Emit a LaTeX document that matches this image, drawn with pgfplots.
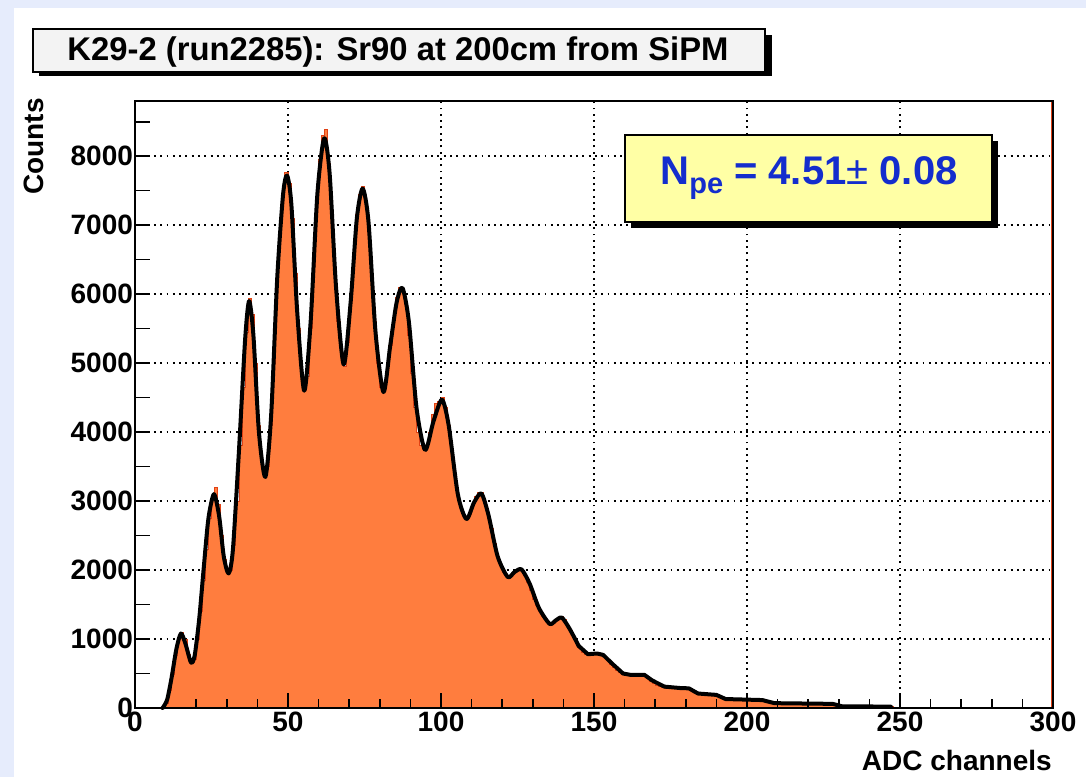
\documentclass[border=0pt]{standalone}
\usepackage{pgfplots}
\usepackage{pgfplotstable}
\pgfplotsset{compat=1.18}
\usepackage{fontspec}
\setmainfont{Liberation Sans}
\definecolor{bgblue}{RGB}{230,236,252}
\definecolor{histfill}{RGB}{255,125,62}
\definecolor{histedge}{RGB}{225,65,20}
\definecolor{boxyellow}{RGB}{255,255,165}
\definecolor{npeblue}{RGB}{20,45,205}
\definecolor{titlefill}{RGB}{243,243,243}

\pgfplotsset{
 layers/rootlike/.define layer set={axis background,axis grid,pre main,main,axis ticks,axis lines,axis tick labels,axis descriptions,axis foreground}{
  grid style={/pgfplots/on layer=axis grid},
  tick style={/pgfplots/on layer=axis ticks},
  axis line style={/pgfplots/on layer=axis lines},
  label style={/pgfplots/on layer=axis descriptions},
  legend style={/pgfplots/on layer=axis descriptions},
  title style={/pgfplots/on layer=axis descriptions},
  colorbar style={/pgfplots/on layer=axis descriptions},
  ticklabel style={/pgfplots/on layer=axis tick labels},
  axis background@ style={/pgfplots/on layer=axis background},
  3d box foreground style={/pgfplots/on layer=axis foreground},
 },
}

\pgfplotstableread{
x y
0 0
9 0
10 60
11 250
12 480
13 760
14 1000
15 1100
16 1000
17 780
18 650
19 700
20 1000
21 1400
22 1850
23 2300
24 2750
25 3050
26 3200
27 2950
28 2500
29 2150
30 1950
31 2000
32 2350
33 3000
34 3800
35 4650
36 5450
37 5930
38 5700
39 5000
40 4100
41 3600
42 3350
43 3500
44 4100
45 5000
46 6100
47 6900
48 7450
49 7770
50 7600
51 7100
52 6300
53 5500
54 4850
55 4600
56 4800
57 5500
58 6400
59 7300
60 7950
61 8300
62 8380
63 7900
64 7200
65 6300
66 5600
67 5100
68 4950
69 5300
70 5900
71 6600
72 7150
73 7450
74 7560
75 7350
76 6900
77 6300
78 5600
79 5000
80 4650
81 4600
82 4850
83 5250
84 5650
85 5950
86 6100
87 6080
88 5850
89 5400
90 4850
91 4350
92 4000
93 3800
94 3750
95 3800
96 4000
97 4250
98 4420
99 4450
100 4500
101 4350
102 4100
103 3750
104 3400
105 3100
106 2900
107 2780
108 2740
109 2800
110 2950
111 3060
112 3130
113 3130
114 3000
115 2830
116 2600
117 2380
118 2200
119 2070
120 1970
121 1910
122 1900
123 1940
124 1980
125 2010
126 2010
127 1920
128 1820
129 1700
130 1580
131 1480
132 1400
133 1320
134 1260
135 1220
136 1230
137 1270
138 1300
139 1320
140 1290
141 1200
142 1120
143 1020
144 930
145 860
146 810
147 780
148 770
149 780
150 780
151 780
152 770
153 740
154 690
155 630
156 590
157 540
158 510
159 490
160 480
163 480
167 430
168 390
169 360
170 330
171 310
172 300
173 290
181 290
182 250
183 220
184 200
190 190
191 160
192 130
193 115
206 115
207 80
208 65
227 65
228 40
229 25
247 25
248 0
300 0
}\hist

\pgfplotstableread{
x y
9 0
10.5 120
12 450
13.5 850
15 1080
16.5 930
18.3 660
19.5 760
21 1300
22.5 2050
24 2750
25.8 3100
27.5 2780
29 2200
30.6 1950
32 2300
34 3750
36 5350
37.3 5900
38.7 5400
40.5 4000
42.6 3350
44.5 4250
46.5 6250
48.4 7450
49.7 7720
51.1 7300
53 5750
55.3 4600
57.4 5600
59.6 7450
61.8 8260
63.6 7750
65.7 6100
68.2 4980
70.5 5900
72.5 7100
74.4 7530
76.3 7050
78.6 5450
81.2 4580
83.4 5250
85.5 5880
87.4 6090
89.5 5600
92 4350
94.8 3740
97.5 4150
100.3 4470
102.5 4100
105.5 3100
108.3 2740
110.8 2980
113.2 3110
115.5 2800
118.5 2200
121.8 1900
124 1970
126.3 2010
129 1800
132 1450
135.5 1220
137.5 1270
139.5 1310
142 1150
145 900
}\fitA

\pgfplotstableread{
x y
145 900
148 780
151 790
153 770
156 640
159.5 500
162 480
166.5 480
169 400
173 310
178 290
181 285
184 210
190 190
193 130
205 115
209 70
228 60
231 25
247 20
}\fitB

\begin{document}
\begin{tikzpicture}
\begin{axis}[
  set layers=rootlike,
  at={(135pt,69pt)}, anchor=south west,
  scale only axis, width=918pt, height=607pt,
  xmin=0, xmax=300, ymin=0, ymax=8800,
  clip=false,
  axis line style={black, line width=1.6pt},
  tick style={black, line width=1.6pt},
  major tick length=15pt, minor tick length=9pt,
  xtick={0,50,...,300}, minor xtick={10,20,30,40,60,70,80,90,110,120,130,140,160,170,180,190,210,220,230,240,260,270,280,290},
  xtick pos=left, ytick pos=left,
  ytick={0,500,...,8500},
  yticklabels={0,,1000,,2000,,3000,,4000,,5000,,6000,,7000,,8000,},
  extra y ticks={1000,2000,...,8000},
  extra y tick labels={},
  extra y tick style={grid=major, major tick length=0pt},
  xmajorgrids=true,
  grid style={black, line width=1.9pt, dash pattern=on 1.9pt off 4.4pt},
  ticklabel style={font=\bfseries\fontsize{28}{28}\selectfont},
  yticklabel style={xshift=1.5pt},
  /pgf/number format/assume math mode=true,
  scaled y ticks=false,
]
\addplot[const plot, fill=histfill, draw=histedge, line width=1pt] table[x=x,y=y] {\hist} \closedcycle;
\addplot[histedge, line width=2pt] coordinates {(299.6,0) (299.6,8800)};
\addplot[black, line width=4pt, smooth, tension=0.45, line join=round, line cap=round] table[x=x,y=y] {\fitA};
\addplot[black, line width=4pt, line join=round, line cap=round] table[x=x,y=y] {\fitB};
\end{axis}
\begin{pgfonlayer}{axis background}
\fill[bgblue] (0pt,0pt) rectangle (1086pt,777pt);
\fill[white] (14pt,0pt) rectangle (1086pt,769pt);
\end{pgfonlayer}
\node[rotate=90, anchor=base east, inner sep=0pt, font=\bfseries\fontsize{28}{28}\selectfont] at (43pt,679pt) {Counts};
\node[anchor=base east, inner sep=0pt, font=\bfseries\fontsize{28}{28}\selectfont] at (1052pt,7pt) {ADC channels};
% title box
\fill[black] (39pt,701pt) rectangle (772pt,742pt);
\filldraw[fill=titlefill, draw=black, line width=1.5pt] (33pt,705pt) rectangle (765pt,748pt);
\node[anchor=base, inner sep=0pt, font=\bfseries\fontsize{32.8}{32.8}\selectfont] at (398pt,716pt) {K29-2 (run2285): Sr90 at 200cm from SiPM};
% N_pe box
\fill[black] (631pt,549pt) rectangle (998pt,636pt);
\filldraw[fill=boxyellow, draw=black, line width=1.5pt] (625pt,555pt) rectangle (992pt,642pt);
\node[anchor=base, inner sep=0pt, text=npeblue, font=\bfseries\fontsize{40}{40}\selectfont] at (809pt,592pt) {N\raisebox{-9pt}{\fontsize{29}{29}\selectfont pe} = 4.51{\mdseries ±} 0.08};
\end{tikzpicture}
\end{document}
